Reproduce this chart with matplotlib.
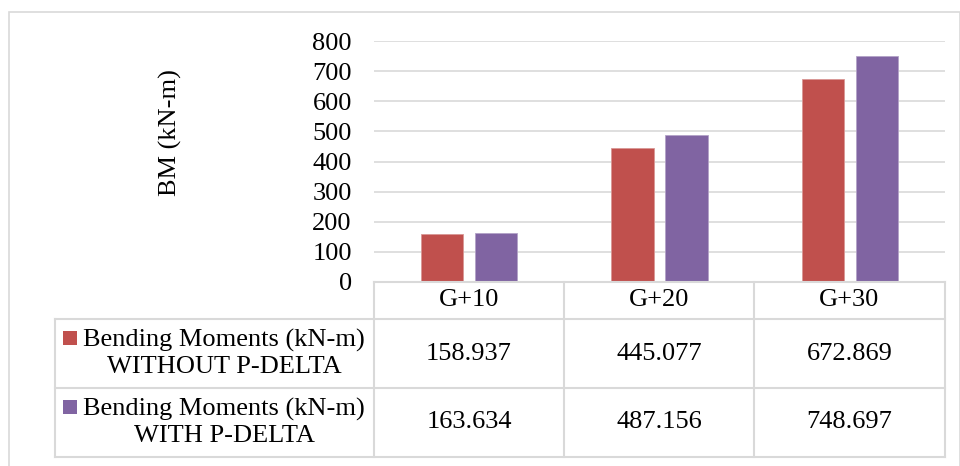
"""Bending moments with and without P-delta: clustered bars over an Excel-style data table."""

import matplotlib
matplotlib.use("Agg")
import matplotlib.pyplot as plt
from matplotlib.patches import Rectangle
import numpy as np

plt.rcParams["font.family"] = ["Liberation Serif", "DejaVu Serif"]

W, H = 960, 466

categories = ["G+10", "G+20", "G+30"]
series_names = [
    "Bending Moments (kN-m)\nWITHOUT P-DELTA",
    "Bending Moments (kN-m)\nWITH P-DELTA",
]
without_pdelta = [158.937, 445.077, 672.869]
with_pdelta = [163.634, 487.156, 748.697]
y_ticks = [0, 100, 200, 300, 400, 500, 600, 700, 800]
y_label = "BM (kN-m)"

COLORS = ["#C0504D", "#8064A2"]
GRID = "#D9D9D9"
FS = 19


def fx(px):
    return px / W


def fy(py):
    return 1 - py / H


fig = plt.figure(figsize=(W / 100, H / 100), dpi=100)

# chart-area frame
fig.add_artist(Rectangle((fx(9), fy(475)), fx(960) - fx(9), fy(12) - fy(475),
                         transform=fig.transFigure, fill=False,
                         edgecolor=GRID, lw=1.2))

# plot area: x spans the three value columns, y from 800 down to 0 at table top
left, right, top, bottom = 374, 945, 41, 282
ax = fig.add_axes([fx(left), fy(bottom), fx(right) - fx(left), fy(top) - fy(bottom)])
ax.set_xlim(0, len(categories))
ax.set_ylim(0, 800)
x = np.arange(len(categories)) + 0.5
bw = 0.221
gap = 0.063
ax.bar(x - (bw + gap) / 2, without_pdelta, bw, color=COLORS[0], edgecolor="#D99795", lw=0.6, zorder=3)
ax.bar(x + (bw + gap) / 2, with_pdelta, bw, color=COLORS[1], edgecolor="#B3A2C7", lw=0.6, zorder=3)
ax.set_yticks(y_ticks)
ax.set_yticklabels([str(v) for v in y_ticks], fontsize=FS)
ax.tick_params(axis="y", length=0, pad=16)
ax.set_xticks([])
ax.grid(axis="y", color=GRID, lw=1.2, zorder=0)
for s in ax.spines.values():
    s.set_visible(False)

fig.text(fx(170), fy(133), y_label, rotation=90, ha="center", va="center", fontsize=FS)

# data table
col_x = [374, 564, 754, 945]
row_y = [282, 319, 388, 457]
tbl_left = 55


def hline(y, x0, x1):
    fig.add_artist(plt.Line2D([fx(x0), fx(x1)], [fy(y), fy(y)], transform=fig.transFigure,
                              color=GRID, lw=1.5))


def vline(x0, y0, y1):
    fig.add_artist(plt.Line2D([fx(x0), fx(x0)], [fy(y0), fy(y1)], transform=fig.transFigure,
                              color=GRID, lw=1.5))


hline(row_y[0], col_x[0], col_x[-1])
for y in row_y[1:]:
    hline(y, tbl_left, col_x[-1])
vline(tbl_left, row_y[1], row_y[3])
for cx in col_x:
    vline(cx, row_y[0], row_y[3])

for i, cat in enumerate(categories):
    fig.text(fx((col_x[i] + col_x[i + 1]) / 2), fy((row_y[0] + row_y[1]) / 2), cat,
             ha="center", va="center", fontsize=FS)

for r, (name, vals) in enumerate(zip(series_names, [without_pdelta, with_pdelta])):
    yc = (row_y[r + 1] + row_y[r + 2]) / 2
    # legend key sits beside the first line of the row header
    fig.add_artist(Rectangle((fx(63), fy(yc - 8.5)), fx(14), fy(0) - fy(14),
                             transform=fig.transFigure, color=COLORS[r], lw=0))
    fig.text(fx(224), fy(yc), name, ha="center", va="center", fontsize=FS,
             multialignment="center", linespacing=1.2)
    for i, v in enumerate(vals):
        fig.text(fx((col_x[i] + col_x[i + 1]) / 2), fy(yc), f"{v:.3f}",
                 ha="center", va="center", fontsize=FS)

fig.savefig("out.png", dpi=100)
